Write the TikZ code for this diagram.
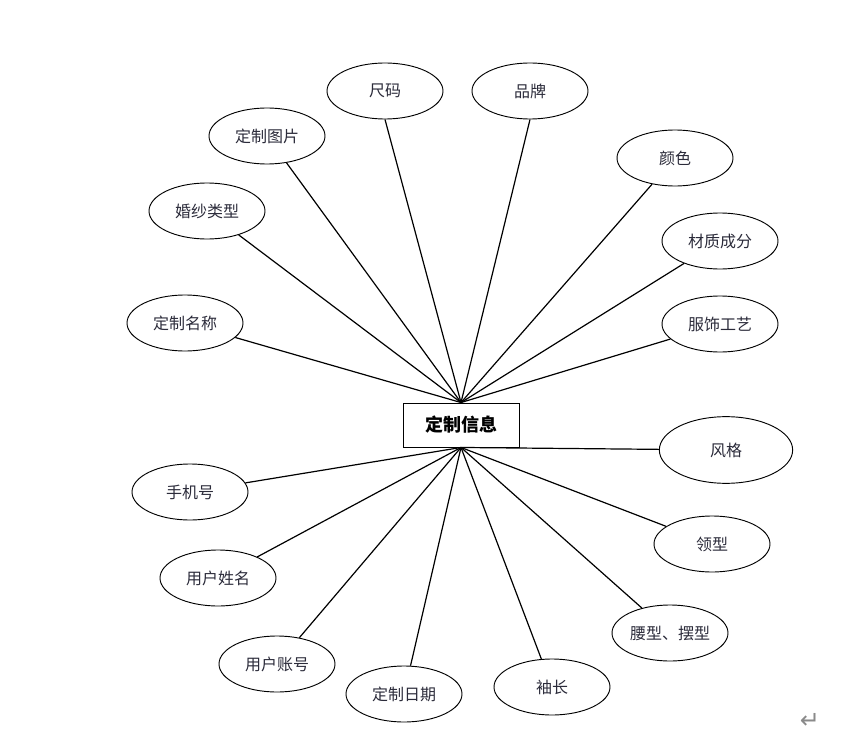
\documentclass[tikz,border=0pt]{standalone}
\usepackage{fontspec}
\newfontfamily\cjk{Noto Sans CJK SC}
\newfontfamily\symfont{DejaVu Sans}
\usepackage{tikz}
\usetikzlibrary{shapes.geometric}
\definecolor{Ink}{HTML}{2B2B3A}
\definecolor{Mark}{HTML}{8A8A8A}

\tikzset{
  attr/.style={draw,ellipse,inner sep=0pt,minimum width=87pt,minimum height=42pt,
    font=\cjk\fontsize{12}{14}\selectfont,text=Ink,line width=0.7pt},
  entity/.style={draw,rectangle,inner sep=0pt,minimum width=87pt,minimum height=33pt,
    font=\cjk\bfseries\fontsize{13.5}{16}\selectfont,line width=0.7pt},
  link/.style={line width=0.9pt}
}

\begin{document}
\begin{tikzpicture}[x=0.75pt,y=-0.75pt]
    \useasboundingbox (0,0) rectangle (861,749);
    \node[entity] (info) at (461,425) {定制信息};

    % attributes above the entity
    \node[attr] (size) at (385,91) {尺码};
    \node[attr] (brand) at (530,91) {品牌};
    \draw[link] (info.north) -- (size.south);
    \draw[link] (info.north) -- (brand.south);
    \foreach \nm/\x/\y/\lab in {
      pic/267/136/{定制图片},
      color/675/158/{颜色},
      dress/207/211/{婚纱类型},
      fabric/720/241/{材质成分},
      title/185/323/{定制名称},
      craft/720/324/{服饰工艺}
    }{
      \node[attr] (\nm) at (\x,\y) {\lab};
      \draw[link] (info.north) -- (\nm);
    }

    % attributes below the entity
    \node[attr,minimum width=100pt,minimum height=50pt] (style) at (726,450) {风格};
    \draw[link] (info.south) -- (style);
    \foreach \nm/\x/\y/\lab in {
      phone/190/492/{手机号},
      collar/712/544/{领型},
      uname/218/578/{用户姓名},
      waist/670/633/{腰型、摆型},
      account/277/664/{用户账号},
      sleeve/552/687/{袖长},
      date/404/694/{定制日期}
    }{
      \node[attr] (\nm) at (\x,\y) {\lab};
      \draw[link] (info.south) -- (\nm);
    }

    \node[text=Mark,font=\symfont\fontsize{18}{18}\selectfont] (ret) at (810,721) {↵};
  \end{tikzpicture}
\end{document}
